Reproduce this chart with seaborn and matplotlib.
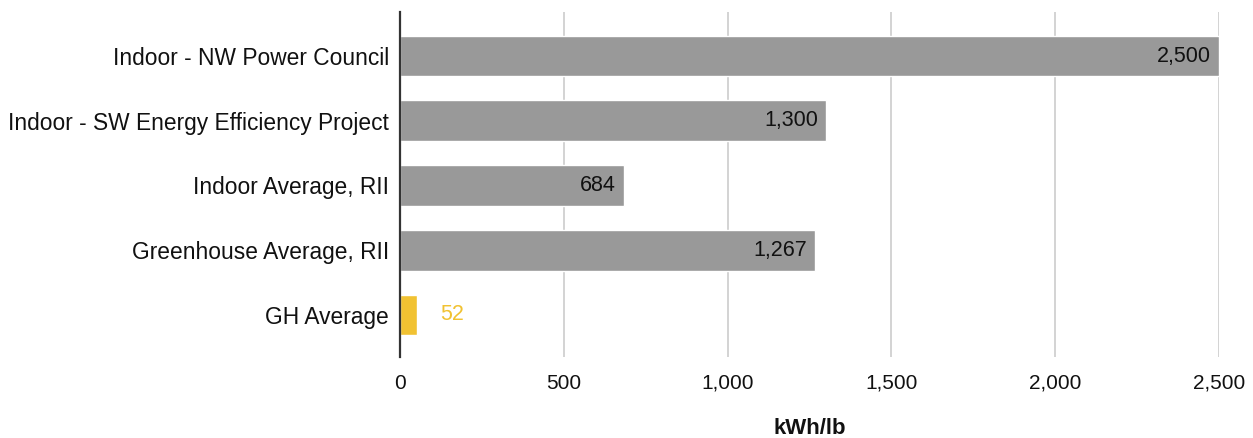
import matplotlib
matplotlib.use("Agg")
import matplotlib.pyplot as plt
import seaborn as sns
import pandas as pd
from matplotlib.ticker import FuncFormatter

categories = ["Indoor - NW Power Council", "Indoor - SW Energy Efficiency Project",
              "Indoor Average, RII", "Greenhouse Average, RII", "GH Average"]
values = [2500, 1300, 684, 1267, 52]
colors = ["#999999", "#999999", "#999999", "#999999", "#F1C232"]
xlabel = "kWh/lb"
xticks = [0, 500, 1000, 1500, 2000, 2500]

sns.set_theme(style="white")
plt.rcParams['font.family'] = ['Liberation Sans', 'DejaVu Sans']

FS_Y = 16.4
FS_N = 15
df = pd.DataFrame({"cat": categories, "val": values})

fig = plt.figure(figsize=(12.53, 4.38), dpi=100)
ax = fig.add_axes([400/1253, (438-357)/438, 819/1253, 345/438])

sns.barplot(data=df, y="cat", x="val", hue="cat", palette=colors, legend=False,
            width=0.63, ax=ax, zorder=3, saturation=1)

ax.set_xlim(0, 2500)
ax.set_ylim(4.65, -0.68)
ax.set_xticks(xticks)
ax.xaxis.set_major_formatter(FuncFormatter(lambda v, p: f"{int(v):,}"))
ax.grid(axis="x", color="#cccccc", linewidth=1.2, zorder=0)
ax.set_axisbelow(True)
for s in ["top", "right", "bottom"]:
    ax.spines[s].set_visible(False)
ax.spines["left"].set_color("#333333")
ax.spines["left"].set_linewidth(1.6)
ax.spines["left"].set_zorder(5)
ax.tick_params(axis="both", length=0, colors="#111111")
ax.tick_params(axis="y", pad=8, labelsize=FS_Y)
ax.tick_params(axis="x", pad=12, labelsize=FS_N)
ax.set_ylabel("")
ax.set_xlabel("")
fig.text((400 + 819/2) / 1253, (438 - 429) / 438, xlabel, ha="center", va="center",
         fontsize=16, fontweight="bold", color="#111111")

for i, (v, c) in enumerate(zip(values, colors)):
    if v > 300:
        ax.text(v - 24, i, f"{v:,}", ha="right", va="center", fontsize=FS_N + 0.5, color="#111111", zorder=6)
    else:
        ax.text(v + 70, i, f"{v:,}", ha="left", va="center", fontsize=FS_N + 0.5, color=c, zorder=6)

fig.savefig("out.png", dpi=100)
